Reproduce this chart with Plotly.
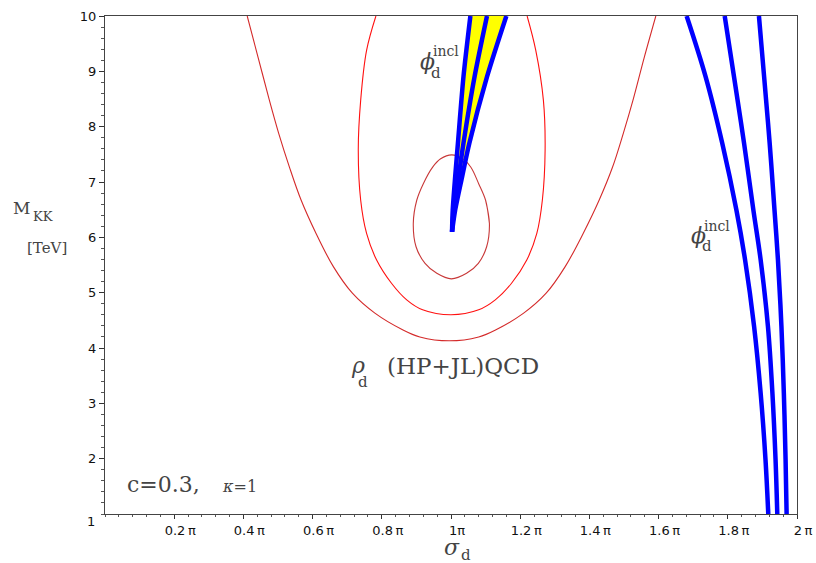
import plotly.graph_objects as go

# ---- data (x in units of pi, y = M_KK in TeV) ----
x_ticks = [0.2, 0.4, 0.6, 0.8, 1.0, 1.2, 1.4, 1.6, 1.8, 2.0]
x_ticktext = ["0.2\u2009π", "0.4\u2009π", "0.6\u2009π", "0.8\u2009π", "1π",
              "1.2\u2009π", "1.4\u2009π", "1.6\u2009π", "1.8\u2009π", "2\u2009π"]
y_ticks = [2, 3, 4, 5, 6, 7, 8, 9, 10]

# red contours (rho_d)
outer_x = [0.411, 0.443, 0.475, 0.502, 0.533, 0.567, 0.610, 0.660, 0.715, 0.780, 0.860, 0.910, 0.995,
           1.080, 1.130, 1.210, 1.275, 1.330, 1.382, 1.428, 1.467, 1.498, 1.526, 1.558, 1.592]
outer_y = [10.0, 9.24, 8.48, 7.88, 7.27, 6.67, 6.07, 5.47, 4.99, 4.63, 4.33, 4.20, 4.13,
           4.20, 4.33, 4.63, 4.99, 5.47, 6.07, 6.67, 7.27, 7.88, 8.48, 9.24, 10.0]

middle_x = [0.783, 0.756, 0.739, 0.732, 0.739, 0.756, 0.785, 0.828, 0.872, 0.918, 1.000,
            1.080, 1.128, 1.175, 1.219, 1.248, 1.264, 1.272, 1.267, 1.245, 1.220]
middle_y = [10.0, 9.38, 8.48, 7.58, 6.67, 6.07, 5.59, 5.17, 4.87, 4.69, 4.60,
            4.69, 4.87, 5.17, 5.59, 6.07, 6.67, 7.58, 8.48, 9.38, 10.0]

inner_x = [1.111, 1.100, 1.080, 1.057, 1.034, 1.002, 0.970, 0.947, 0.920, 0.901, 0.891,
           0.899, 0.925, 0.959, 1.001, 1.045, 1.079, 1.103, 1.111, 1.100]
inner_y = [6.25, 6.67, 6.97, 7.27, 7.42, 7.49, 7.42, 7.27, 6.97, 6.67, 6.25,
           5.83, 5.53, 5.35, 5.25, 5.35, 5.53, 5.83, 6.25, 6.67]

# blue wedge (phi_d incl) near 1 pi
wedge_y = [6.10, 6.49, 7.09, 7.70, 8.90, 10.0]
wedge_left_x = [1.003, 1.005, 1.012, 1.020, 1.036, 1.056]
wedge_mid_x = [1.003, 1.008, 1.022, 1.036, 1.068, 1.104]
wedge_right_x = [1.003, 1.012, 1.032, 1.053, 1.104, 1.160]

# blue curves on the right
right_y = [10.0, 8.90, 7.70, 6.49, 5.59, 4.39, 3.18, 1.98, 1.0]
right1_x = [1.681, 1.736, 1.784, 1.825, 1.850, 1.876, 1.895, 1.909, 1.917]
right2_x = [1.791, 1.818, 1.847, 1.874, 1.895, 1.916, 1.929, 1.938, 1.943]
right3_x = [1.890, 1.905, 1.921, 1.935, 1.945, 1.955, 1.962, 1.967, 1.970]

BLUE = "#0000ff"
fig = go.Figure()

# yellow band
fig.add_trace(go.Scatter(
    x=wedge_left_x + wedge_right_x[::-1], y=wedge_y + wedge_y[::-1],
    fill="toself", fillcolor="#ffff00", line=dict(width=0), mode="lines",
    hoverinfo="skip", showlegend=False))

for xs, ys, col in [(outer_x, outer_y, "#d42a2a"), (middle_x, middle_y, "#ff1010"),
                    (inner_x, inner_y, "#c83838")]:
    fig.add_trace(go.Scatter(x=xs, y=ys, mode="lines",
                             line=dict(color=col, width=1.1, shape="spline", smoothing=1.0),
                             showlegend=False))

for xs in [wedge_left_x, wedge_mid_x, wedge_right_x]:
    fig.add_trace(go.Scatter(x=xs, y=wedge_y, mode="lines",
                             line=dict(color=BLUE, width=4.5, shape="spline", smoothing=0.8),
                             showlegend=False))

for xs in [right1_x, right2_x, right3_x]:
    fig.add_trace(go.Scatter(x=xs, y=right_y, mode="lines",
                             line=dict(color=BLUE, width=4.5, shape="spline", smoothing=1.0),
                             showlegend=False))

SERIF = "DejaVu Serif"
TXT = "#444444"
anns = []

def txt(text, x, y, size, xref="x", yref="y", xanchor="center", italic=False):
    if italic:
        text = "<i>" + text + "</i>"
    anns.append(dict(text=text, x=x, y=y, xref=xref, yref=yref, xanchor=xanchor,
                     yanchor="middle", showarrow=False,
                     font=dict(family=SERIF, size=size, color=TXT)))

# phi labels
txt("ϕ", 0.931, 9.17, 22, italic=True)
txt("incl", 0.986, 9.37, 14)
txt("d", 0.957, 8.97, 15)
txt("ϕ", 1.714, 6.03, 22, italic=True)
txt("incl", 1.770, 6.21, 14)
txt("d", 1.740, 5.84, 15)
# rho label
txt("ρ", 0.730, 3.69, 22, italic=True)
txt("d", 0.746, 3.38, 15)
txt("(HP+JL)QCD", 0.810, 3.68, 23, xanchor="left")
# parameters
txt("c=0.3,", 0.057, 1.53, 22, xanchor="left")
txt("<i>κ</i>=1", 0.332, 1.50, 16, xanchor="left")
# axis titles
txt("M", -0.1354, 0.615, 17, xref="paper", yref="paper", xanchor="left")
txt("KK", -0.1065, 0.598, 13, xref="paper", yref="paper", xanchor="left")
txt("[TeV]", -0.116, 0.534, 15, xref="paper", yref="paper", xanchor="left")
txt("σ", 0.502, -0.0676, 22, xref="paper", yref="paper", italic=True)
txt("d", 0.521, -0.0830, 15, xref="paper", yref="paper")
# y tick "1" (offset below the corner)
anns.append(dict(text="1", x=-0.0118, y=-0.0150, xref="paper", yref="paper",
                 xanchor="right", yanchor="middle", showarrow=False,
                 font=dict(family="DejaVu Sans", size=13, color="#111")))

fig.update_layout(
    width=816, height=563,
    margin=dict(l=105, r=19, t=16, b=49, pad=0),
    plot_bgcolor="white", paper_bgcolor="white",
    annotations=anns,
    showlegend=False,
)
fig.update_xaxes(
    range=[0, 2], tickvals=x_ticks, ticktext=x_ticktext, automargin=False,
    ticks="outside", ticklen=4, tickwidth=1, tickcolor="#333",
    tickfont=dict(family="DejaVu Sans", size=13, color="#111"),
    ticklabelshift=6,
    showline=True, linecolor="#444", linewidth=1, mirror=True,
    showgrid=False, zeroline=False,
    minor=dict(dtick=0.04, tick0=0, ticks="outside", ticklen=2, tickcolor="#555", showgrid=False),
)
fig.update_yaxes(
    range=[1, 10], tickvals=y_ticks, automargin=False,
    ticks="outside", ticklen=5, tickwidth=1, tickcolor="#333",
    tickfont=dict(family="DejaVu Sans", size=13, color="#111"),
    showline=True, linecolor="#444", linewidth=1, mirror=True,
    showgrid=False, zeroline=False,
    minor=dict(dtick=0.2, tick0=1, ticks="outside", ticklen=3, tickcolor="#555", showgrid=False),
)

# drop the browser's default body margin and scrollbars so the 816x563 figure fills the window
fig.write_html(
    "out.html",
    config={"displayModeBar": False, "responsive": False},
    post_script=("document.body.style.margin='0';"
                 "document.body.style.overflow='hidden';"
                 "document.documentElement.style.overflow='hidden';"),
)
